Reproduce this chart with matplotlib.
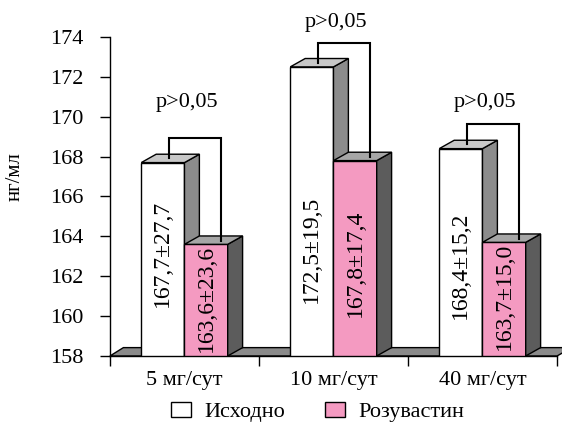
import numpy as np
import matplotlib
matplotlib.use("Agg")
import matplotlib.pyplot as plt
from matplotlib.patches import Polygon, Patch

plt.rcParams['font.family'] = ['Liberation Serif', 'DejaVu Serif']

# Данные
doses = ['5 мг/сут', '10 мг/сут', '40 мг/сут']
baseline = [167.7, 172.5, 168.4]
baseline_sd = [27.7, 19.5, 15.2]
rosuva = [163.6, 167.8, 163.7]
rosuva_sd = [23.6, 17.4, 15.0]
p_text = ['p>0,05', 'p>0,05', 'p>0,05']

# Положение подписей (по оси y)
label_y_base = [163.15, 163.35, 162.55]
label_y_rosu = [160.9, 162.65, 161.0]
p_y = [170.7, 174.75, 170.7]

ymin, ymax = 158, 174
bw = 0.29        # ширина столбца
dx, dy = 0.10, 0.42   # глубина псевдо-3D

fig = plt.figure(figsize=(5.62, 4.24), dpi=100)
ax = fig.add_axes([0.1957, 0.1604, 0.7954, 0.7524])
ax.set_xlim(-0.5, 2.5)
ax.set_ylim(ymin, ymax)


def bar3d(x, h, front, side, top):
    ax.bar(x, h - ymin, bw, bottom=ymin, color=front, edgecolor='black',
           linewidth=1, zorder=3, align='edge')
    ax.add_patch(Polygon([(x + bw, ymin), (x + bw + dx, ymin + dy),
                          (x + bw + dx, h + dy), (x + bw, h)],
                         closed=True, facecolor=side, edgecolor='black',
                         linewidth=1, zorder=3))
    ax.add_patch(Polygon([(x, h), (x + dx, h + dy), (x + bw + dx, h + dy),
                          (x + bw, h)],
                         closed=True, facecolor=top, edgecolor='black',
                         linewidth=1, zorder=3))


# пол
ax.add_patch(Polygon([(-0.5, ymin), (-0.5 + dx * 0.9, ymin + dy),
                      (2.5 + dx, ymin + dy), (2.5, ymin)],
                     closed=True, facecolor='#8a8a8a', edgecolor='black',
                     linewidth=1, zorder=1, clip_on=False))

x = np.arange(len(doses))
for i in x:
    xb = i - bw
    xr = i
    bar3d(xb, baseline[i], 'white', '#8c8c8c', '#c8c8c8')
    bar3d(xr, rosuva[i], '#f49ac1', '#5c5c5c', '#a6a6a6')

    ax.text(xb + bw / 2, label_y_base[i],
            f'{baseline[i]:.1f}±{baseline_sd[i]:.1f}'.replace('.', ','),
            rotation=90, ha='center', va='center', fontsize=17, zorder=5)
    ax.text(xr + bw / 2, label_y_rosu[i],
            f'{rosuva[i]:.1f}±{rosuva_sd[i]:.1f}'.replace('.', ','),
            rotation=90, ha='center', va='center', fontsize=17, zorder=5)

    # скобка сравнения
    top = max(baseline[i], rosuva[i]) + dy + 0.8
    xl = xb + bw / 2 + 0.04
    xrr = xr + bw / 2 + 0.10
    ax.plot([xl, xl, xrr, xrr],
            [baseline[i] + dy * 0.5, top, top, rosuva[i] + dy * 0.4],
            color='black', linewidth=1.5, zorder=6, clip_on=False,
            solid_joinstyle='miter')
    ax.text(i + 0.02, p_y[i], p_text[i], ha='center', va='center',
            fontsize=16, clip_on=False)

# оси
for s in ['top', 'right']:
    ax.spines[s].set_visible(False)
ax.spines['left'].set_linewidth(1)
ax.spines['bottom'].set_linewidth(1)
ax.spines['bottom'].set_zorder(2)

ax.set_yticks(np.arange(158, 175, 2))
ax.tick_params(axis='y', direction='out', length=7, width=1, pad=12,
               labelsize=16)
ax.set_xticks(x)
ax.set_xticklabels(doses)
ax.set_xticks([-0.5, 0.5, 1.5, 2.5], minor=True)
ax.tick_params(axis='x', which='major', length=0, pad=11, labelsize=16)
ax.tick_params(axis='x', which='minor', direction='out', length=7, width=1)

ax.set_ylabel('нг/мл', fontsize=15)
ax.yaxis.set_label_coords(-0.19, 0.564)

handles = [Patch(facecolor='white', edgecolor='black', linewidth=1),
           Patch(facecolor='#f49ac1', edgecolor='black', linewidth=1)]
fig.legend(handles, ['Исходно', 'Розувастин'], loc='center',
           bbox_to_anchor=(0.565, 0.028), ncol=2, frameon=False,
           fontsize=16, handlelength=0.9, handleheight=0.7,
           handletextpad=0.6, columnspacing=1.8)

fig.savefig('out.png', dpi=100)
